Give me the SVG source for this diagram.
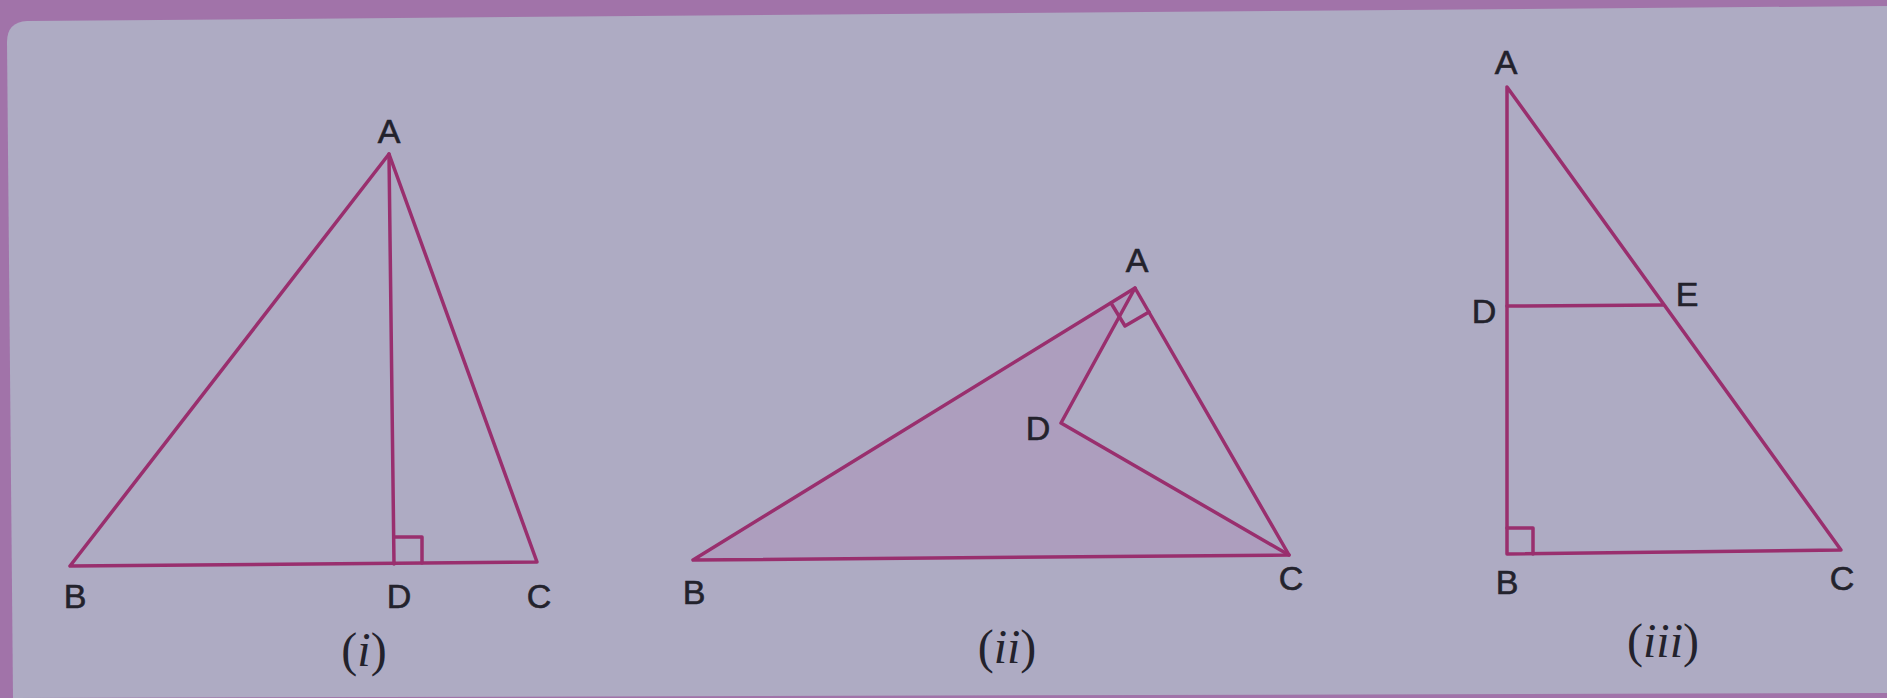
<svg xmlns="http://www.w3.org/2000/svg" width="1887" height="698" viewBox="0 0 1887 698">
<style>
.ln{fill:none;stroke:#992f6e;stroke-width:3.5;stroke-linejoin:round;stroke-linecap:round}
.lb{font-family:"Liberation Sans",Arial,sans-serif;font-size:34px;fill:#23222c;stroke:#23222c;stroke-width:0.6;text-anchor:middle}
.cap{font-family:"Liberation Serif","Times New Roman",serif;font-size:48px;fill:#23222c;text-anchor:middle}
.it{font-style:italic}
</style>
<rect x="0" y="0" width="1887" height="698" fill="#a173a9"/>
<path d="M7,42 Q7,22 27,21 L1887,6 L1887,693 L13,698 Z" fill="#aeabc3"/>
<g id="fig1">
  <g id="fig1-lines">
    <polygon class="ln" points="389,154 70,566 537,562"/>
    <line class="ln" x1="389" y1="154" x2="394" y2="564"/>
    <polyline class="ln" points="394,537 422,537 422,563"/>
  </g>
  <text class="lb" x="389" y="143">A</text>
  <text class="lb" x="75" y="608">B</text>
  <text class="lb" x="399" y="608">D</text>
  <text class="lb" x="539" y="608">C</text>
  <text class="cap" x="364" y="666">(<tspan class="it">i</tspan>)</text>
</g>
<g id="fig2">
  <polygon points="1135,288 693,560 1289,555 1061,423" fill="#ad9ebe"/>
  <g id="fig2-lines">
    <polygon class="ln" points="1135,288 693,560 1289,555"/>
    <polyline class="ln" points="1135,288 1061,423 1289,555"/>
    <polyline class="ln" points="1111,303 1125,326 1149,312"/>
  </g>
  <text class="lb" x="1137" y="272">A</text>
  <text class="lb" x="1038" y="440">D</text>
  <text class="lb" x="694" y="604">B</text>
  <text class="lb" x="1291" y="590">C</text>
  <text class="cap" x="1007" y="663">(<tspan class="it">ii</tspan>)</text>
</g>
<g id="fig3">
  <g id="fig3-lines">
    <polygon class="ln" points="1507,87 1507,554 1841,550"/>
    <line class="ln" x1="1507" y1="306" x2="1663" y2="305"/>
    <polyline class="ln" points="1507,528 1533,528 1533,554"/>
  </g>
  <text class="lb" x="1506" y="74">A</text>
  <text class="lb" x="1484" y="323">D</text>
  <text class="lb" x="1687" y="306">E</text>
  <text class="lb" x="1507" y="594">B</text>
  <text class="lb" x="1842" y="590">C</text>
  <text class="cap" x="1663" y="657">(<tspan class="it">iii</tspan>)</text>
</g>
</svg>
